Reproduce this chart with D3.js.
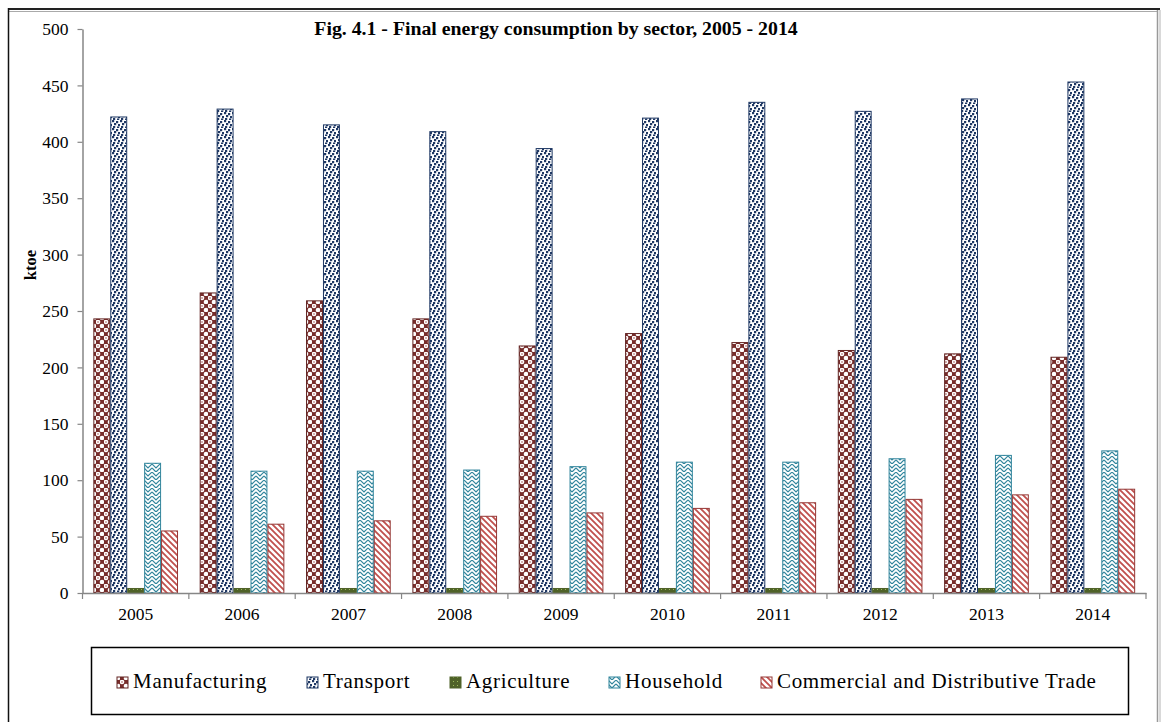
<!DOCTYPE html>
<html><head><meta charset="utf-8">
<script src="https://cdn.jsdelivr.net/npm/d3@7"></script>
<style>body{margin:0;background:#fff}svg{display:block}</style>
</head><body>
<svg id="c" width="1162" height="722"></svg>
<script>
const years = ["2005","2006","2007","2008","2009","2010","2011","2012","2013","2014"];
const seriesNames = ["Manufacturing","Transport","Agriculture","Household","Commercial and Distributive Trade"];
const manufacturing = [243,266,259,243,219,230,222,215,212,209];
const transport = [422,429,415,409,394,421,435,427,438,453];
const agriculture = [4,4,4,4,4,4,4,4,4,4];
const household = [115,108,108,109,112,116,116,119,122,126];
const commercial = [55,61,64,68,71,75,80,83,87,92];
const yTicks = [0,50,100,150,200,250,300,350,400,450,500];

const values = [manufacturing, transport, agriculture, household, commercial];
const strokes = ["#632523","#1F3864","#4F6228","#31859C","#953735"];
const font = "'Liberation Serif','Times New Roman',serif";

const svg = d3.select("#c");
const defs = svg.append("defs");

function pat(id, size){ return defs.append("pattern").attr("id",id).attr("patternUnits","userSpaceOnUse").attr("width",size).attr("height",size); }
let p = pat("pManu",8);
p.append("rect").attr("width",8).attr("height",8).attr("fill","#772C2A");
p.append("circle").attr("cx",2).attr("cy",2).attr("r",2.3).attr("fill","#fff");
p.append("circle").attr("cx",6).attr("cy",6).attr("r",2.3).attr("fill","#fff");
p.append("circle").attr("cx",2).attr("cy",2).attr("r",0.8).attr("fill","#A05050");
p = pat("pTrans",8);
p.append("rect").attr("width",8).attr("height",8).attr("fill","#fff");
[[0,0],[4,1],[2,3],[6,4],[1,6],[5,6.5]].forEach(d=>p.append("rect").attr("x",d[0]).attr("y",d[1]).attr("width",2.2).attr("height",2.2).attr("fill","#1F3864"));
p = pat("pAgri",4);
p.append("rect").attr("width",4).attr("height",4).attr("fill","#4F6228");
p.append("rect").attr("x",1).attr("y",1).attr("width",1).attr("height",1).attr("fill","#9BBB59");
p = pat("pHouse",8);
p.append("rect").attr("width",8).attr("height",8).attr("fill","#fff");
p.append("path").attr("d","M0,0 L4,4 L8,0 M0,4 L4,8 L8,4").attr("stroke","#31859C").attr("stroke-width",1.2).attr("fill","none");
p = pat("pComm",6);
p.append("rect").attr("width",6).attr("height",6).attr("fill","#fff");
p.append("path").attr("d","M-1,-1 L7,7 M-1,5 L1,7 M5,-1 L7,1").attr("stroke","#C0504D").attr("stroke-width",1.8);
const fills = ["url(#pManu)","url(#pTrans)","url(#pAgri)","url(#pHouse)","url(#pComm)"];

// Frame
svg.append("line").attr("x1",8).attr("x2",1160).attr("y1",9).attr("y2",9).attr("stroke","#222").attr("stroke-width",2);
svg.append("line").attr("x1",8).attr("x2",1158).attr("y1",11.5).attr("y2",11.5).attr("stroke","#aaa").attr("stroke-width",1);
svg.append("line").attr("x1",8.5).attr("x2",8.5).attr("y1",8).attr("y2",722).attr("stroke","#111").attr("stroke-width",1.5);
svg.append("line").attr("x1",1157.5).attr("x2",1157.5).attr("y1",10).attr("y2",722).attr("stroke","#999").attr("stroke-width",1.5);
svg.append("line").attr("x1",1160).attr("x2",1160).attr("y1",10).attr("y2",722).attr("stroke","#ccc").attr("stroke-width",1.5);

const pL = 82.5, pR = 1146, pT = 29, pB = 593;
const x = d3.scaleBand().domain(years).range([pL,pR]).paddingInner(0).paddingOuter(0);
const y = d3.scaleLinear().domain([0,500]).range([pB,pT]);
const inner = d3.scaleBand().domain(seriesNames).range([0,x.bandwidth()]).paddingInner(0).paddingOuter(0.64);

seriesNames.forEach((s,i)=>{
  svg.append("g").selectAll("rect").data(years).join("rect")
    .attr("x",(d)=>x(d)+inner(s)+0.5)
    .attr("y",(d,j)=>y(values[i][j]))
    .attr("width",inner.bandwidth()-1)
    .attr("height",(d,j)=>y(0)-y(values[i][j]))
    .attr("fill",fills[i]).attr("stroke",strokes[i]).attr("stroke-width",1);
});

const ya = svg.append("g").attr("transform",`translate(${pL},0)`)
  .call(d3.axisLeft(y).tickValues(yTicks).tickSize(5).tickSizeOuter(0));
ya.select(".domain").attr("stroke","#868686").attr("stroke-width",1.5);
ya.selectAll(".tick line").attr("stroke","#868686").attr("stroke-width",1.2);
ya.selectAll(".tick text").attr("font-family",font).attr("font-size",17.5).attr("fill","#000").attr("x",-14);

const xa = svg.append("g").attr("transform",`translate(0,${pB})`)
  .call(d3.axisBottom(x).tickSize(0).tickSizeOuter(0));
xa.select(".domain").attr("stroke","#868686").attr("stroke-width",1.5);
xa.selectAll(".tick text").attr("font-family",font).attr("font-size",17.5).attr("fill","#000").attr("y",27).attr("dy",0);
svg.append("g").selectAll("line").data(years.concat(["end"])).join("line")
  .attr("x1",(d,i)=> i<years.length ? x(d) : pR).attr("x2",(d,i)=> i<years.length ? x(d) : pR)
  .attr("y1",pB).attr("y2",pB+6).attr("stroke","#868686").attr("stroke-width",1.2);

svg.append("text").attr("x",556).attr("y",35).attr("text-anchor","middle")
  .attr("font-family",font).attr("font-weight","bold").attr("font-size",19.8).text("Fig. 4.1 - Final energy consumption by sector, 2005 - 2014");

svg.append("text").attr("transform","translate(36,265) rotate(-90)").attr("text-anchor","middle")
  .attr("font-family",font).attr("font-weight","bold").attr("font-size",16.5).text("ktoe");

svg.append("rect").attr("x",91.5).attr("y",647.5).attr("width",1037).attr("height",67).attr("fill","#fff").attr("stroke","#000").attr("stroke-width",1.5);
const legTextX = [133,323,466,625,777];
const lg = svg.append("g");
seriesNames.forEach((s,i)=>{
  lg.append("rect").attr("x",legTextX[i]-16).attr("y",677).attr("width",11).attr("height",11).attr("fill",fills[i]).attr("stroke",strokes[i]);
  const t = lg.append("text").attr("x",legTextX[i]).attr("y",688).attr("font-family",font).attr("font-size",21).text(s);
  const w = t.node().getComputedTextLength();
  t.attr("textLength", w*1.07).attr("lengthAdjust","spacing");
});
</script>
</body></html>
